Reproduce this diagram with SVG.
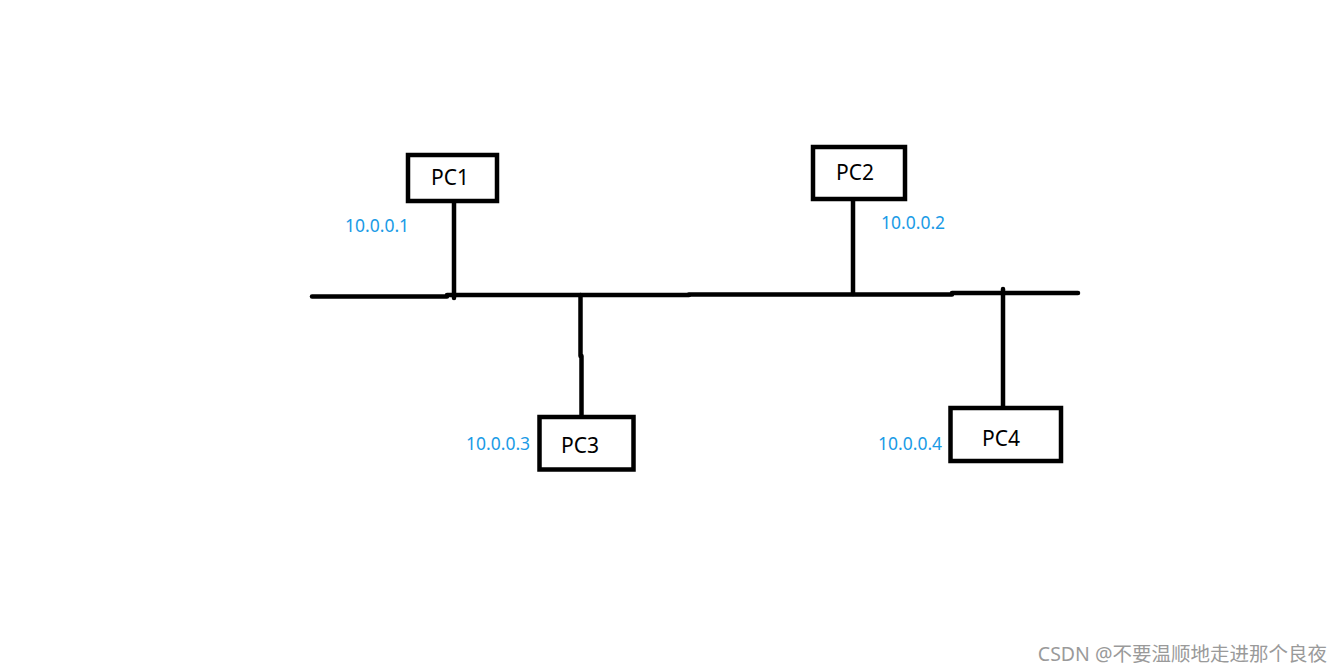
<svg xmlns="http://www.w3.org/2000/svg" width="1344" height="672" viewBox="0 0 1344 672">
<style>
.box{fill:#fff;stroke:#000;stroke-width:4.5}
.ln{stroke:#000;stroke-width:4.5;stroke-linecap:round;fill:none}
.pc{font-family:"Noto Sans","Liberation Sans",sans-serif;font-size:21px;fill:#000;text-anchor:middle}
.ip{font-family:"Noto Sans","Liberation Sans",sans-serif;font-size:17.5px;fill:#1a9be6}
.wm{font-family:"Noto Sans","Noto Sans CJK SC",sans-serif;font-size:19.5px;fill:#9a9a9a;text-anchor:end}
</style>
<rect width="1344" height="672" fill="#fff"/>
<g id="connectors">
<path class="ln" d="M312 296.5H447"/>
<path class="ln" d="M447 295H689"/>
<path class="ln" d="M689 294.5H952"/>
<path class="ln" d="M952 293H1078"/>
<path class="ln" d="M454 203V298"/>
<path class="ln" d="M853 201V294"/>
<path class="ln" d="M580.5 295V356"/>
<path class="ln" d="M581.5 356V415"/>
<path class="ln" d="M1003 289V406"/>
</g>
<g id="pc1">
<rect class="box" x="408" y="155" width="89" height="46"/>
<text class="pc" x="450" y="185">PC1</text>
<text class="ip" x="345" y="232">10.0.0.1</text>
</g>
<g id="pc2">
<rect class="box" x="813" y="147" width="92" height="52"/>
<text class="pc" x="855" y="180">PC2</text>
<text class="ip" x="881" y="229">10.0.0.2</text>
</g>
<g id="pc3">
<rect class="box" x="539.5" y="417" width="94" height="52.5"/>
<text class="pc" x="580" y="453">PC3</text>
<text class="ip" x="466" y="450">10.0.0.3</text>
</g>
<g id="pc4">
<rect class="box" x="950.5" y="408" width="110.5" height="53"/>
<text class="pc" x="1001" y="446">PC4</text>
<text class="ip" x="878" y="450">10.0.0.4</text>
</g>
<text class="wm" x="1327" y="661">CSDN @不要温顺地走进那个良夜</text>
</svg>
